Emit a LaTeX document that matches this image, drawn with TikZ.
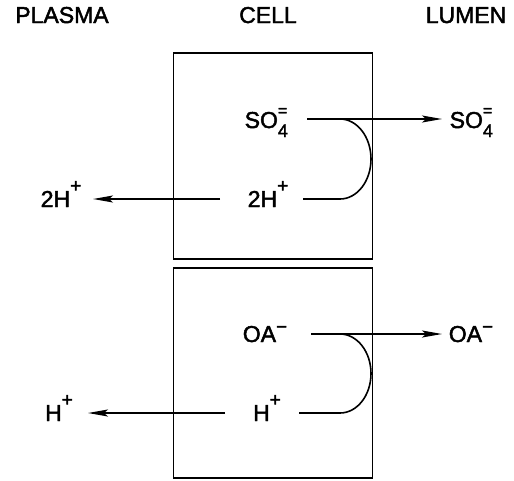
\documentclass[tikz,border=0pt]{standalone}
\usepackage{fontspec}
\setmainfont{Liberation Sans}[FakeBold=2]
\usetikzlibrary{arrows.meta}
\newcommand{\bigtxt}{\fontsize{23}{23}\selectfont}
\newcommand{\smalltxt}{\fontsize{19}{19}\selectfont}
\newcommand{\sulfate}{SO\rlap{\raisebox{-9pt}{\fontsize{18}{18}\selectfont 4}}\raisebox{12pt}{\fontsize{16}{16}\selectfont =}}
\newcommand{\hplus}{H\raisebox{15pt}{\smalltxt +}}
\newcommand{\oaminus}{OA\raisebox{9pt}{\smalltxt −}}
\begin{document}
\begin{tikzpicture}[x=1pt,y=-1pt,
  lbl/.style={anchor=base,inner sep=0pt,font=\bigtxt},
  wall/.style={draw,line width=1.8pt},
  flow/.style={line width=1.6pt},
  arr/.style={flow,-{Stealth[length=20pt,width=7pt,inset=4pt]}}]
\useasboundingbox (0,0) rectangle (514,480);
% headers
\node[lbl] (plasma) at (62,23) {PLASMA};
\node[lbl] (cell) at (268,23) {CELL};
\node[lbl] (lumen) at (466,23) {LUMEN};
% boxes
\node[wall,minimum width=199pt,minimum height=206pt,anchor=north west] (top) at (172.5,52) {};
\node[wall,minimum width=199pt,minimum height=210pt,anchor=north west] (bot) at (172.5,267) {};
% top labels
\node[lbl] (so4in) at (266,128) {\sulfate};
\node[lbl] (hhin) at (268,207) {2\hplus};
\node[lbl] (so4out) at (471,128) {\sulfate};
\node[lbl] (hhout) at (61,207) {2\hplus};
% bottom labels
\node[lbl] (oain) at (265,342) {\oaminus};
\node[lbl] (hin) at (267,421) {\hplus};
\node[lbl] (oaout) at (471,342) {\oaminus};
\node[lbl] (hout) at (59,421) {\hplus};
% line ends
\coordinate (s1) at (307,119);
\coordinate (s2) at (442,119);
\coordinate (c1) at (340,119);
\coordinate (h1) at (303,199);
\coordinate (h2) at (220,199);
\coordinate (h3) at (93,199);
\coordinate (o1) at (311,334);
\coordinate (o2) at (442,334);
\coordinate (c2) at (340,334);
\coordinate (p1) at (299,413);
\coordinate (p2) at (225,413);
\coordinate (p3) at (88,413);
% top connectors
\draw[arr] (s1) -- (s2);
\draw[flow] (c1) arc[start angle=-90,end angle=90,x radius=31,y radius=40] -- (h1);
\draw[arr] (h2) -- (h3);
% bottom connectors
\draw[arr] (o1) -- (o2);
\draw[flow] (c2) arc[start angle=-90,end angle=90,x radius=31,y radius=39.5] -- (p1);
\draw[arr] (p2) -- (p3);
\end{tikzpicture}
\end{document}
